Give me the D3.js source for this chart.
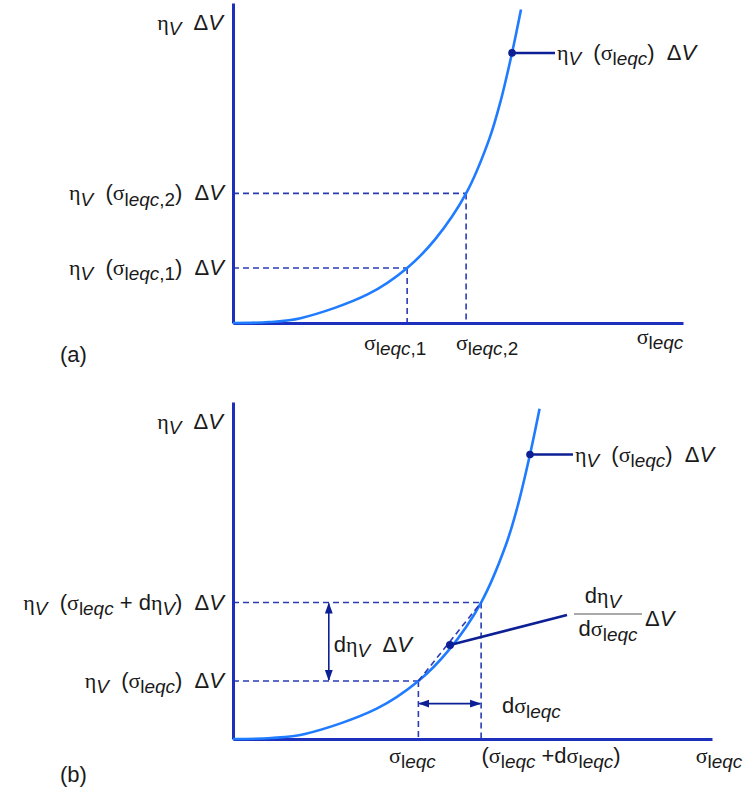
<!DOCTYPE html>
<html lang="en">
<head>
  <meta charset="UTF-8">
  <title>Volume fraction vs equivalent stress</title>
  <script src="https://d3js.org/d3.v7.min.js"></script>
  <style>
    body { margin: 0; background: #fff; font-family: "Liberation Sans", Arial, sans-serif; }
    svg { display: block; }
    text { white-space: pre; fill: #1a1a1a; }
  </style>
</head>
<body>
  <div id="chart"></div>
  <script>
    // curve (same shape in both panels), axes run 0..10
    const curveSigma = [0, 0.8, 1.5, 3.0, 3.87, 4.5, 5.18, 5.7, 5.95, 6.2, 6.4];
    const curveEta   = [0, 0.03, 0.15, 0.9, 1.72, 2.63, 4.05, 5.77, 6.95, 8.44, 9.8];

    // marked points: sigma_1 / sigma_2 in (a), sigma / sigma + dsigma in (b)
    const markSigma = [3.87, 5.18];
    const markEta = [1.72, 4.05];
    // labelled point near the top, and the tangent point of (b)
    const topPoint = [6.2, 8.44];
    const tangentPoint = [4.53, 2.79];
    // where the two double arrows sit in (b)
    const arrowSigma = 2.0;
    const arrowEta = 1.05;

    const width = 748, height = 790;
    const fs = 22;
    const axisColor = "#1c2fbd";
    const curveColor = "#1f7bff";
    const dashColor = "#2a3cb5";
    const noteColor = "#0c1f94";

    const svg = d3.select("#chart").append("svg")
      .attr("width", width).attr("height", height);

    const defs = svg.append("defs");
    defs.append("marker").attr("id", "arr")
      .attr("viewBox", "0 0 10 10").attr("refX", 9).attr("refY", 5)
      .attr("markerWidth", 7).attr("markerHeight", 7).attr("orient", "auto-start-reverse")
      .append("path").attr("d", "M0,1.5L10,5L0,8.5z").attr("fill", noteColor);

    // text with sub/italic/greek pieces
    function richText(g, x, y, parts, size, anchor) {
      const t = g.append("text").attr("x", x).attr("y", y)
        .attr("font-size", size).attr("text-anchor", anchor || "start");
      let shift = 0;
      parts.forEach(p => {
        const ts = t.append("tspan").text(p[0]);
        const isSub = p[1].includes("sub");
        const target = isSub ? size * 0.24 : 0;
        if (target !== shift) { ts.attr("dy", target - shift); shift = target; }
        if (isSub) ts.attr("font-size", size * 0.86);
        if (p[1].includes("it")) ts.attr("font-style", "italic");
        if (p[1].includes("gr")) ts.attr("font-family", "'Liberation Serif', serif");
      });
      return t;
    }

    const etaV = [["η", "gr"], ["V", "sub it"]];
    const sigLeqc = [["σ", "gr"], ["l", "sub"], ["eqc", "sub it"]];
    const dV = [["Δ", ""], ["V", "it"]];

    function panel(opt) {
      const g = svg.append("g");
      const x = d3.scaleLinear().domain([0, 10]).range([opt.left, opt.right]);
      const y = d3.scaleLinear().domain([0, 10]).range([opt.bottom, opt.top]);

      // dashed guide lines
      const guides = g.append("g").attr("stroke", dashColor).attr("stroke-width", 1.6)
        .attr("stroke-dasharray", "6,4").attr("fill", "none");
      markSigma.forEach((s, i) => {
        guides.append("line").attr("x1", x(0)).attr("x2", x(s))
          .attr("y1", y(markEta[i])).attr("y2", y(markEta[i]));
        guides.append("line").attr("x1", x(s)).attr("x2", x(s))
          .attr("y1", y(markEta[i])).attr("y2", y(0));
      });

      // axes
      g.append("g").attr("transform", `translate(0,${y(0)})`)
        .call(d3.axisBottom(x).tickValues([]).tickSizeOuter(0))
        .select(".domain").attr("stroke", axisColor).attr("stroke-width", 3);
      g.append("g").attr("transform", `translate(${x(0)},0)`)
        .call(d3.axisLeft(y).tickValues([]).tickSizeOuter(0))
        .select(".domain").attr("stroke", axisColor).attr("stroke-width", 3);

      // curve
      const line = d3.line()
        .x((d, i) => x(curveSigma[i])).y((d, i) => y(curveEta[i]))
        .curve(d3.curveCatmullRom.alpha(0.5));
      g.append("path").datum(curveSigma).attr("d", line)
        .attr("fill", "none").attr("stroke", curveColor).attr("stroke-width", 2.6);

      // label line at top point
      g.append("line").attr("x1", x(topPoint[0])).attr("y1", y(topPoint[1]))
        .attr("x2", x(topPoint[0]) + 43).attr("y2", y(topPoint[1]))
        .attr("stroke", noteColor).attr("stroke-width", 2.5);
      g.append("circle").attr("cx", x(topPoint[0])).attr("cy", y(topPoint[1]))
        .attr("r", 3.8).attr("fill", noteColor);
      richText(g, x(topPoint[0]) + 45, y(topPoint[1]) + 7,
        [...etaV, ["  (", ""], ...sigLeqc, [")  ", ""], ...dV], fs);

      // y axis title
      richText(g, opt.left - 10, opt.top + 27, [...etaV, ["  ", ""], ...dV], fs, "end");

      return { g, x, y };
    }

    // ---------- panel (a)
    const A = panel({ left: 233, right: 683, top: 3, bottom: 323 });
    richText(A.g, 224, A.y(markEta[1]) + 7,
      [...etaV, ["  (", ""], ...sigLeqc, [",2", "sub"], [")  ", ""], ...dV], fs, "end");
    richText(A.g, 224, A.y(markEta[0]) + 7,
      [...etaV, ["  (", ""], ...sigLeqc, [",1", "sub"], [")  ", ""], ...dV], fs, "end");
    richText(A.g, A.x(markSigma[0]) - 12, 350, [...sigLeqc, [",1", "sub"]], fs, "middle");
    richText(A.g, A.x(markSigma[1]) + 21, 350, [...sigLeqc, [",2", "sub"]], fs, "middle");
    richText(A.g, 660, 344, sigLeqc, fs, "middle");
    A.g.append("text").attr("x", 60).attr("y", 362).attr("font-size", fs).text("(a)");

    // ---------- panel (b)
    const B = panel({ left: 233, right: 712, top: 402, bottom: 739 });
    richText(B.g, 224, B.y(markEta[1]) + 7,
      [...etaV, ["  (", ""], ...sigLeqc, [" + d", ""], ...etaV, [")  ", ""], ...dV], fs, "end");
    richText(B.g, 224, B.y(markEta[0]) + 7,
      [...etaV, ["  (", ""], ...sigLeqc, [")  ", ""], ...dV], fs, "end");

    // chord between the two marked points
    B.g.append("line")
      .attr("x1", B.x(markSigma[0])).attr("y1", B.y(markEta[0]))
      .attr("x2", B.x(markSigma[1])).attr("y2", B.y(markEta[1]))
      .attr("stroke", dashColor).attr("stroke-width", 1.6).attr("stroke-dasharray", "6,4");

    // tangent note
    B.g.append("line").attr("x1", B.x(tangentPoint[0])).attr("y1", B.y(tangentPoint[1]))
      .attr("x2", 567).attr("y2", 615).attr("stroke", noteColor).attr("stroke-width", 2.5);
    B.g.append("circle").attr("cx", B.x(tangentPoint[0])).attr("cy", B.y(tangentPoint[1]))
      .attr("r", 4).attr("fill", noteColor);
    richText(B.g, 603, 603, [["d", ""], ...etaV], fs, "middle");
    B.g.append("line").attr("x1", 574).attr("x2", 642).attr("y1", 614).attr("y2", 614)
      .attr("stroke", "#555").attr("stroke-width", 1.2);
    richText(B.g, 608, 636, [["d", ""], ...sigLeqc], fs, "middle");
    richText(B.g, 645, 626, dV, fs);

    // d eta arrow
    B.g.append("line").attr("x1", B.x(arrowSigma)).attr("x2", B.x(arrowSigma))
      .attr("y1", B.y(markEta[1]) + 1).attr("y2", B.y(markEta[0]) - 1)
      .attr("stroke", noteColor).attr("stroke-width", 1.6)
      .attr("marker-start", "url(#arr)").attr("marker-end", "url(#arr)");
    richText(B.g, B.x(arrowSigma) + 5, B.y(tangentPoint[1]) + 7,
      [["d", ""], ...etaV, ["  ", ""], ...dV], fs);

    // d sigma arrow
    B.g.append("line").attr("x1", B.x(markSigma[0]) + 1).attr("x2", B.x(markSigma[1]) - 1)
      .attr("y1", B.y(arrowEta)).attr("y2", B.y(arrowEta))
      .attr("stroke", noteColor).attr("stroke-width", 1.6)
      .attr("marker-start", "url(#arr)").attr("marker-end", "url(#arr)");
    richText(B.g, 502, 713, [["d", ""], ...sigLeqc], fs);

    // x labels
    richText(B.g, B.x(markSigma[0]) - 6, 763, sigLeqc, fs, "middle");
    richText(B.g, 551, 763, [["(", ""], ...sigLeqc, [" +d", ""], ...sigLeqc, [")", ""]], fs, "middle");
    richText(B.g, 719, 763, sigLeqc, fs, "middle");
    B.g.append("text").attr("x", 60).attr("y", 782).attr("font-size", fs).text("(b)");
  </script>
</body>
</html>
